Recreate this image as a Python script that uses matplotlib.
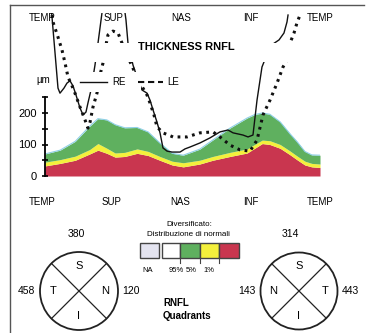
import matplotlib
matplotlib.use("Agg")
import matplotlib.pyplot as plt
from matplotlib.patches import Rectangle, Ellipse
from matplotlib.lines import Line2D
import numpy as np

plt.rcParams['font.family'] = ['Liberation Sans', 'DejaVu Sans']

# ---------------- data ----------------
sectors = ["TEMP", "SUP", "NAS", "INF", "TEMP"]

# normative bands (µm) along the scan circle (0=TEMP ... 4=TEMP)
band_x = [0, .22, .44, .65, .77, .90, 1.02, 1.16, 1.34, 1.50, 1.67, 1.85, 2.01,
          2.25, 2.44, 2.69, 2.94, 3.05, 3.16, 3.27, 3.42, 3.56, 3.67, 3.78, 3.88, 4.0]
red_top = [32, 40, 50, 70, 82, 72, 60, 62, 72, 65, 50, 35, 29,
           38, 50, 62, 73, 88, 103, 100, 88, 68, 51, 35, 29, 27]
yellow_top = [44, 52, 63, 84, 103, 88, 73, 75, 86, 78, 62, 47, 42,
              50, 62, 75, 86, 100, 114, 112, 100, 80, 63, 47, 40, 38]
green_top = [70, 82, 110, 158, 182, 178, 163, 153, 154, 140, 105, 72, 66,
             85, 114, 152, 184, 195, 200, 196, 172, 135, 108, 78, 67, 66]

# right eye (solid)
re_x = [0.087, 0.189, 0.218, 0.276, 0.32, 0.364, 0.407, 0.451, 0.509, 0.553, 0.596,
        0.625, 0.669, 0.727, 0.771, 0.815, 0.844, 0.989, 1.149, 1.178, 1.207, 1.28,
        1.353, 1.411, 1.484, 1.527, 1.571, 1.629, 1.673, 1.716, 1.775, 1.847, 1.964,
        2.036, 2.109, 2.255, 2.4, 2.545, 2.662, 2.735, 2.88, 2.953, 3.025, 3.084,
        3.156, 3.244, 3.316, 3.404, 3.476, 3.52, 3.535]
re_y = [543, 279, 263, 279, 295, 302, 286, 257, 216, 194, 203,
        232, 273, 352, 422, 495, 543, 600, 543, 495, 422, 352,
        305, 273, 263, 241, 210, 171, 137, 89, 79, 76, 76,
        86, 92, 105, 121, 140, 146, 137, 130, 124, 130, 241,
        346, 394, 419, 432, 454, 489, 511]

# left eye (dotted)
le_x = [0.102, 0.116, 0.189, 0.247, 0.291, 0.335, 0.393, 0.436, 0.509, 0.582, 0.625,
        0.655, 0.698, 0.756, 0.8, 0.844, 0.887, 0.916, 0.989, 1.062, 1.12, 1.193,
        1.265, 1.338, 1.425, 1.484, 1.527, 1.585, 1.629, 1.716, 1.862, 2.065, 2.255,
        2.444, 2.545, 2.691, 2.836, 2.982, 3.084, 3.171, 3.273, 3.375, 3.462, 3.52,
        3.564, 3.622, 3.665, 3.709]
le_y = [511, 489, 441, 400, 359, 314, 286, 263, 219, 178, 152,
        171, 219, 263, 321, 359, 416, 448, 460, 454, 422, 384,
        349, 314, 279, 257, 232, 194, 156, 137, 124, 124, 137,
        140, 124, 98, 83, 79, 114, 194, 241, 295, 346, 368,
        422, 454, 486, 511]

y_ticks = [0, 50, 100, 150, 200, 250]
y_ticklabels = ["0", "", "100", "", "200", ""]

# quadrants
re_quadrants = {"S": 380, "T": 458, "N": 120}
le_quadrants = {"S": 314, "N": 143, "T": 443}

legend_colors = ["#e4e4f0", "#ffffff", "#5fb05f", "#f4f03c", "#c9364f"]
legend_labels = ["NA", "95%", "5%", "1%"]

# ---------------- figure ----------------
W, H = 367, 333
fig = plt.figure(figsize=(W / 100, H / 100), dpi=100)
fig.patch.set_facecolor("white")

def fx(px):
    return px / W

def fy(py):
    return 1 - py / H

PX_PER_UM = 0.315
ax = fig.add_axes([fx(45), fy(176), 275 / W, 163 / H])
ax.set_xlim(0, 4)
ax.set_ylim(0, 163 / PX_PER_UM)
ax.patch.set_alpha(0)

ax.fill_between(band_x, 0, red_top, color="#c9364f", lw=0, zorder=1)
ax.fill_between(band_x, red_top, yellow_top, color="#f4f03c", lw=0, zorder=1)
ax.fill_between(band_x, yellow_top, green_top, color="#5fb05f", lw=0, zorder=1)
ax.plot(band_x, green_top, color="#8fd0e6", lw=0.8, zorder=1.5)
ax.plot([4, 4], [0, green_top[-1]], color="#8fd0e6", lw=0.6, zorder=1.5)

ax.plot(re_x, re_y, color="#111111", lw=1.0, zorder=3)
ax.plot(le_x, le_y, color="#111111", lw=2.2, linestyle=(0, (0.9, 1.5)),
        dash_capstyle="butt", zorder=3)

for s in ["top", "right", "bottom"]:
    ax.spines[s].set_visible(False)
ax.spines["left"].set_bounds(0, 250)
ax.spines["left"].set_linewidth(1.3)
ax.set_xticks([])
ax.set_yticks(y_ticks)
ax.set_yticklabels(y_ticklabels)
ax.tick_params(axis="y", direction="inout", length=5, width=1.2, pad=3.5,
               labelsize=8)

# white masks (as in the original print)
for (x0, y0, x1, y1) in [(88, 43, 300, 62), (77, 72, 141, 92)]:
    fig.add_artist(Rectangle((fx(x0), fy(y1)), (x1 - x0) / W, (y1 - y0) / H,
                             transform=fig.transFigure, facecolor="white",
                             edgecolor="none", zorder=3))

# frame lines
fig.add_artist(Line2D([fx(10), fx(364)], [fy(5), fy(5)], color="#555555", lw=1.0,
                      transform=fig.transFigure, zorder=5))
fig.add_artist(Line2D([fx(10), fx(10)], [fy(5), fy(333)], color="#555555", lw=1.0,
                      transform=fig.transFigure, zorder=5))

# sector labels
top_px = [42, 114, 181, 251, 320]
bot_px = [42, 112, 180, 251, 320]
for lab, px in zip(sectors, top_px):
    fig.text(fx(px), fy(18), lab, ha="center", va="center", fontsize=7, zorder=6)
for lab, px in zip(sectors, bot_px):
    fig.text(fx(px), fy(202), lab, ha="center", va="center", fontsize=7, zorder=6)

fig.text(fx(186), fy(47), "THICKNESS RNFL", ha="center", va="center", fontsize=8,
         fontweight="bold", zorder=6)
fig.text(fx(43), fy(80), "µm", ha="center", va="center", fontsize=7, zorder=6)
fig.add_artist(Line2D([fx(80), fx(107)], [fy(82), fy(82)], color="#111111", lw=1.0,
                      transform=fig.transFigure, zorder=6))
fig.text(fx(112), fy(82), "RE", ha="left", va="center", fontsize=7, zorder=6)
fig.add_artist(Line2D([fx(138), fx(163)], [fy(82), fy(82)], color="#111111", lw=1.5,
                      linestyle=(0, (3, 1.8)), transform=fig.transFigure, zorder=6))
fig.text(fx(167), fy(82), "LE", ha="left", va="center", fontsize=7, zorder=6)


def quadrant(cx, cy, r, left_letter, right_letter, top_val, left_val, right_val, top_px_x):
    fig.add_artist(Ellipse((fx(cx), fy(cy)), 2 * r / W, 2 * r / H, transform=fig.transFigure,
                           facecolor="none", edgecolor="#222222", lw=1.3, zorder=5))
    d = r / np.sqrt(2)
    for sx in (-1, 1):
        fig.add_artist(Line2D([fx(cx - d), fx(cx + d)],
                              [fy(cy - sx * d), fy(cy + sx * d)],
                              color="#222222", lw=0.9,
                              transform=fig.transFigure, zorder=5))
    fig.text(fx(cx), fy(cy - 25), "S", ha="center", va="center", fontsize=8, zorder=6)
    fig.text(fx(cx), fy(cy + 25), "I", ha="center", va="center", fontsize=8, zorder=6)
    fig.text(fx(cx - 26), fy(cy), left_letter, ha="center", va="center", fontsize=8, zorder=6)
    fig.text(fx(cx + 26), fy(cy), right_letter, ha="center", va="center", fontsize=8, zorder=6)
    fig.text(fx(top_px_x), fy(234), str(top_val), ha="center", va="center",
             fontsize=7.5, zorder=6)
    fig.text(fx(cx - r - 5), fy(cy), str(left_val), ha="right", va="center",
             fontsize=7.5, zorder=6)
    fig.text(fx(cx + r + 4), fy(cy), str(right_val), ha="left", va="center",
             fontsize=7.5, zorder=6)


quadrant(79, 291, 39, "T", "N", re_quadrants["S"], re_quadrants["T"], re_quadrants["N"], 76)
quadrant(299, 291, 38.5, "N", "T", le_quadrants["S"], le_quadrants["N"], le_quadrants["T"], 290)

# legend of normal distribution
fig.text(fx(189), fy(225), "Diversificato:", ha="center", va="center", fontsize=5.8, zorder=6)
fig.text(fx(188), fy(235), "Distribuzione di normali", ha="center", va="center",
         fontsize=5.8, zorder=6)
box_edges = [(140, 159), (162, 180), (180, 200), (200, 219), (219, 239)]
for (x0, x1), c in zip(box_edges, legend_colors):
    fig.add_artist(Rectangle((fx(x0), fy(258)), (x1 - x0) / W, 15 / H,
                             transform=fig.transFigure, facecolor=c,
                             edgecolor="#444444", lw=1.0, zorder=5))
for px in (180, 200, 219):
    fig.add_artist(Line2D([fx(px), fx(px)], [fy(258), fy(263)], color="#444444", lw=0.8,
                          transform=fig.transFigure, zorder=5))
for lab, px in zip(legend_labels, [148, 176, 191, 209]):
    fig.text(fx(px), fy(270), lab, ha="center", va="center", fontsize=5.5, zorder=6)

fig.text(fx(163), fy(303), "RNFL", ha="left", va="center", fontsize=7,
         fontweight="bold", zorder=6)
fig.text(fx(163), fy(316), "Quadrants", ha="left", va="center", fontsize=7,
         fontweight="bold", zorder=6)

fig.savefig("out.png", dpi=100, facecolor="white")
